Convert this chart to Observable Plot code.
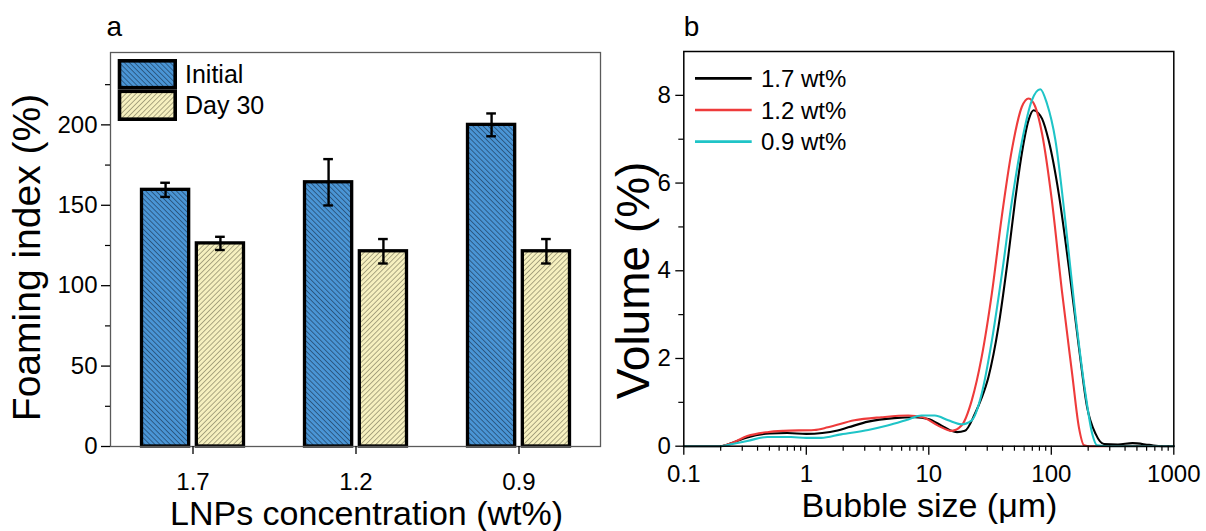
<!DOCTYPE html>
<html><head><meta charset="utf-8">
<script src="https://cdn.jsdelivr.net/npm/d3@7"></script>
<script src="https://cdn.jsdelivr.net/npm/@observablehq/plot@0.6"></script>
<style>
html,body{margin:0;padding:0;background:#fff;}
#wrap{position:relative;width:1206px;height:531px;overflow:hidden;}
#pa,#pb{position:absolute;top:0;}
#pa{left:0;} #pb{left:603px;}
</style></head><body><div id="wrap"><div id="pa"></div><div id="pb"></div></div>
<script>
// ---------- Panel a data ----------
const concentrations = ["1.7", "1.2", "0.9"];
const initialIndex = [159.6, 164.3, 200.0];
const initialErr = [4.4, 14.4, 7.1];
const day30Index = [126.3, 121.4, 121.4];
const day30Err = [4.1, 7.6, 7.6];
const barSeries = ["Initial", "Day 30"];
const yTicksA = [0, 50, 100, 150, 200];
const yMinorA = [25, 75, 125, 175, 225];

// ---------- Panel b data ----------
const curveSeries = ["1.7 wt%", "1.2 wt%", "0.9 wt%"];
const size17 = [0.1,0.2,0.25,0.33,0.5,0.7,1,1.35,1.8,2.2,3.2,5.2,7.7,9.9,12.7,15,17,19.7,23.8,27,30.7,37,44.8,50.7,57.5,65.3,71.7,78,84,95,115,139,168,196,230,269,350,460,630,800,1000];
const vol17  = [0,0,0.08,0.2,0.29,0.3,0.28,0.3,0.36,0.43,0.56,0.64,0.66,0.62,0.47,0.36,0.32,0.35,0.74,1.1,1.58,2.72,4.39,5.61,6.68,7.44,7.66,7.6,7.47,6.98,5.76,4.09,2.26,0.89,0.28,0.05,0.04,0.07,0.03,0,0];
const size12 = [0.1,0.2,0.25,0.33,0.48,0.65,1.16,1.5,2.47,4.1,6.8,8.9,11.9,15.4,18.5,22.4,27,32.7,39.4,47.6,57.5,65.3,74,84,101,122,148,168,185,200,1000];
const vol12  = [0,0,0.08,0.23,0.32,0.35,0.37,0.43,0.59,0.66,0.70,0.66,0.47,0.35,0.47,1.04,2.03,3.48,5.23,6.75,7.74,7.93,7.74,7.13,5.61,3.55,1.65,0.43,0.02,0,0];
const size09 = [0.1,0.2,0.25,0.33,0.48,0.75,1,1.32,1.92,3.2,4.6,6.8,8.7,11.2,14.4,18.5,22.4,27,32.7,39.4,47.6,57.5,69.5,81.3,92,108,130,157,190,216,237,300,1000];
const vol09  = [0,0,0.05,0.12,0.21,0.21,0.19,0.19,0.27,0.37,0.47,0.61,0.70,0.70,0.59,0.50,0.59,1.19,2.4,3.9,5.57,6.94,7.89,8.14,7.82,6.98,5.15,3.02,1.2,0.28,0.02,0,0];
const xTicksB = [0.1, 1, 10, 100, 1000];
const xMinorB = [0.2,0.3,0.4,0.5,0.6,0.7,0.8,0.9,2,3,4,5,6,7,8,9,20,30,40,50,60,70,80,90,200,300,400,500,600,700,800,900];
const yTicksB = [0, 2, 4, 6, 8];
const yMinorB = [1, 3, 5, 7];

// ---------- styles ----------
const FONT = '"Liberation Sans", Arial, Helvetica, sans-serif';
const TICK_FS = 24;
const curveColors = ["#000000", "#ee3b3b", "#1fc4c7"];
const svgNS = "http://www.w3.org/2000/svg";

function enlargeTickLabels(svg) {
  svg.querySelectorAll('g[aria-label$="tick label"]').forEach(g => {
    g.setAttribute("font-size", TICK_FS);
    g.style.fontSize = TICK_FS + "px";
    g.querySelectorAll("text").forEach(t => { t.style.fontSize = TICK_FS + "px"; });
  });
}

// ---------- Panel a ----------
const W = 603, H = 531;
const mLA = 110, mRA = 3, mTA = 52, mBA = 85;
const bandW = (W - mLA - mRA) / concentrations.length;
const outer = 30.5, barW = 47.5;
const gap = bandW - 2 * outer - 2 * barW;
const off = gap / 2 + barW / 2;
const capHalf = 5;

const barsA = concentrations.map((c, i) => ({c, initial: initialIndex[i], ie: initialErr[i], day: day30Index[i], de: day30Err[i]}));

const plotA = Plot.plot({
  width: W, height: H,
  marginLeft: mLA, marginRight: mRA, marginTop: mTA, marginBottom: mBA,
  x: {type: "band", domain: concentrations, padding: 0},
  y: {domain: [0, 245]},
  style: {fontFamily: FONT, fontSize: "24px", color: "#000", background: "transparent", overflow: "visible"},
  marks: [
    Plot.barY(barsA, {x: "c", y: "initial", fill: "url(#hatchBlue)", stroke: "#000", strokeWidth: 3.3, insetLeft: outer, insetRight: outer + barW + gap}),
    Plot.barY(barsA, {x: "c", y: "day", fill: "url(#hatchYellow)", stroke: "#000", strokeWidth: 3.3, insetLeft: outer + barW + gap, insetRight: outer}),
    Plot.ruleX(barsA, {x: "c", y1: d => d.initial - d.ie, y2: d => d.initial + d.ie, dx: -off, stroke: "#000", strokeWidth: 2.4}),
    Plot.ruleX(barsA, {x: "c", y1: d => d.day - d.de, y2: d => d.day + d.de, dx: off, stroke: "#000", strokeWidth: 2.4}),
    Plot.tickY(barsA, {x: "c", y: d => d.initial + d.ie, insetLeft: bandW / 2 - off - capHalf, insetRight: bandW / 2 + off - capHalf, strokeWidth: 2.4}),
    Plot.tickY(barsA, {x: "c", y: d => d.initial - d.ie, insetLeft: bandW / 2 - off - capHalf, insetRight: bandW / 2 + off - capHalf, strokeWidth: 2.4}),
    Plot.tickY(barsA, {x: "c", y: d => d.day + d.de, insetLeft: bandW / 2 + off - capHalf, insetRight: bandW / 2 - off - capHalf, strokeWidth: 2.4}),
    Plot.tickY(barsA, {x: "c", y: d => d.day - d.de, insetLeft: bandW / 2 + off - capHalf, insetRight: bandW / 2 - off - capHalf, strokeWidth: 2.4}),
    Plot.frame({stroke: "#5a5a5a", strokeWidth: 1.3}),
    Plot.axisX({tickSize: 8, tickPadding: 18, label: null, strokeWidth: 1.3}),
    Plot.axisY(yMinorA, {tickSize: 5, tickFormat: () => "", label: null, strokeWidth: 1.2}),
    Plot.axisY(yTicksA, {tickSize: 9, tickPadding: 4, label: null, strokeWidth: 1.3}),
    Plot.text(["LNPs concentration (wt%)"], {text: d => d, frameAnchor: "bottom", lineAnchor: "bottom", dx: 11, dy: 78, fontSize: 34}),
    Plot.text(["Foaming index (%)"], {text: d => d, frameAnchor: "left", rotate: -90, textAnchor: "middle", lineAnchor: "middle", dx: -82.5, dy: 8, fontSize: 39}),
    Plot.text(["a"], {text: d => d, frameAnchor: "top-left", textAnchor: "start", lineAnchor: "bottom", dx: -4, dy: -17, fontSize: 28})
  ]
});
enlargeTickLabels(plotA);

// hatch patterns
const defs = document.createElementNS(svgNS, "defs");
defs.innerHTML = `
<pattern id="hatchBlue" patternUnits="userSpaceOnUse" width="3.6" height="3.6" patternTransform="rotate(-45)">
  <rect width="3.6" height="3.6" fill="#4a95d5"/>
  <line x1="0" y1="0" x2="0" y2="3.6" stroke="#1b3553" stroke-width="1.2"/>
</pattern>
<pattern id="hatchYellow" patternUnits="userSpaceOnUse" width="3.6" height="3.6" patternTransform="rotate(45)">
  <rect width="3.6" height="3.6" fill="#f6f0bf"/>
  <line x1="0" y1="0" x2="0" y2="3.6" stroke="#6e6b50" stroke-width="1.1"/>
</pattern>`;
plotA.insertBefore(defs, plotA.firstChild);

// legend a
(function () {
  const g = d3.select(plotA).append("g").attr("font-family", FONT).attr("text-anchor", "start");
  const sw = 3.6, left = 117.7, right = 177;
  const rows = [{top: 59, bottom: 89.5, fill: "url(#hatchBlue)", base: 83.3}, {top: 89.5, bottom: 121, fill: "url(#hatchYellow)", base: 114}];
  rows.forEach((r, i) => {
    g.append("rect").attr("x", left + sw / 2).attr("y", r.top + sw / 2)
      .attr("width", right - left - sw).attr("height", r.bottom - r.top - sw)
      .attr("fill", r.fill).attr("stroke", "#000").attr("stroke-width", sw);
    g.append("text").attr("x", 185).attr("y", r.base).attr("font-size", 25).attr("fill", "#000").text(barSeries[i]);
  });
})();
document.getElementById("pa").appendChild(plotA);

// ---------- Panel b ----------
const curveData = [];
[[size17, vol17], [size12, vol12], [size09, vol09]].forEach(([xs, ys], k) => {
  xs.forEach((x, i) => curveData.push({series: curveSeries[k], size: x, vol: ys[i]}));
});

const plotB = Plot.plot({
  width: W, height: H,
  marginLeft: 80.3, marginRight: 32.7, marginTop: 51, marginBottom: 85.3,
  x: {type: "log", domain: [0.1, 1000]},
  y: {domain: [0, 9]},
  color: {domain: curveSeries, range: curveColors},
  style: {fontFamily: FONT, fontSize: "24px", color: "#000", background: "transparent", overflow: "visible"},
  marks: [
    Plot.line(curveData, {x: "size", y: "vol", z: "series", stroke: "series", strokeWidth: 2.1, curve: "monotone-x"}),
    Plot.frame({stroke: "#000", strokeWidth: 1.5}),
    Plot.axisX(xMinorB, {tickSize: 5, tickFormat: () => "", label: null, strokeWidth: 1.2}),
    Plot.axisX(xTicksB, {tickSize: 9, tickPadding: 10, tickFormat: d => String(d), label: null, strokeWidth: 1.3}),
    Plot.axisY(yMinorB, {tickSize: 5, tickFormat: () => "", label: null, strokeWidth: 1.2}),
    Plot.axisY(yTicksB, {tickSize: 8, tickPadding: 5, label: null, strokeWidth: 1.3}),
    Plot.text(["Bubble size (μm)"], {text: d => d, frameAnchor: "bottom", lineAnchor: "bottom", dx: 0.7, dy: 71, fontSize: 34}),
    Plot.text(["Volume (%)"], {text: d => d, frameAnchor: "left", rotate: -90, textAnchor: "middle", lineAnchor: "middle", dx: -50, dy: 31.6, fontSize: 46}),
    Plot.text(["b"], {text: d => d, frameAnchor: "top-left", textAnchor: "start", lineAnchor: "bottom", dx: 0, dy: -16, fontSize: 28})
  ]
});
enlargeTickLabels(plotB);

// legend b
(function () {
  const g = d3.select(plotB).append("g").attr("font-family", FONT).attr("text-anchor", "start");
  const ys = [78.3, 110, 141.7];
  curveSeries.forEach((s, i) => {
    g.append("line").attr("x1", 92).attr("x2", 148.7).attr("y1", ys[i]).attr("y2", ys[i])
      .attr("stroke", curveColors[i]).attr("stroke-width", 2.7);
    g.append("text").attr("x", 158).attr("y", ys[i] + 8.5).attr("font-size", 24).attr("fill", "#000").text(s);
  });
})();
document.getElementById("pb").appendChild(plotB);
</script>
</body></html>
